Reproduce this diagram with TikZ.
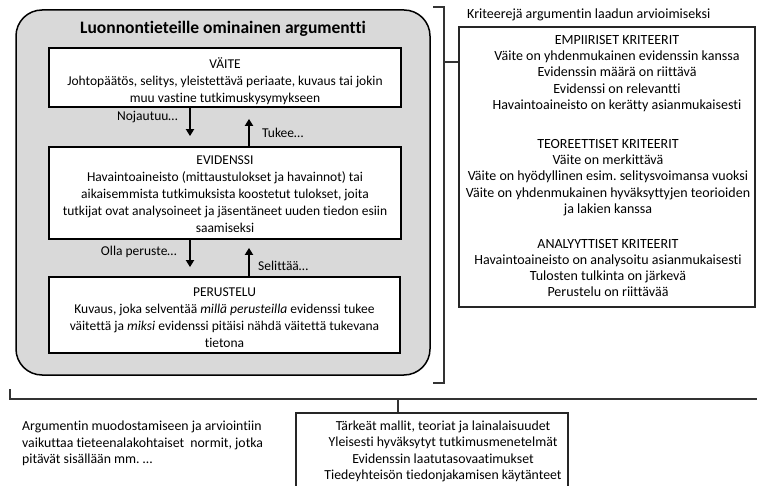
\documentclass[tikz,border=0pt]{standalone}
\usepackage{fontspec}
\setmainfont{Carlito}[Ligatures=NoCommon]
\usetikzlibrary{arrows.meta}
\frenchspacing
\begin{document}
\begin{tikzpicture}[x=1pt,y=-1pt,
  box/.style={draw=black, line width=1.8pt, fill=white, inner sep=0pt},
  boxtext/.style={align=center, inner sep=0pt, font=\fontsize{13.5}{17}\selectfont},
  lbl/.style={font=\fontsize{13.5}{16}\selectfont, inner sep=0pt},
  arr/.style={line width=2pt, -{Triangle[width=8pt,length=7pt]}},
  brk/.style={line width=1.3pt, draw=black!80},
  crit/.style={align=center, font=\fontsize{14}{16.3}\selectfont, inner sep=0pt}]
\useasboundingbox (0,0) rectangle (757,486);
\clip (0,0) rectangle (757,486);

% outer rounded box
\node[draw=black, line width=1.5pt, fill=black!15, rounded corners=26pt,
  minimum width=414pt, minimum height=365pt, inner sep=0pt] (outer) at (223,192.5) {};
\node[font=\fontsize{17.5}{19}\selectfont\bfseries, inner sep=0pt] (title) at (223,29)
  {Luonnontieteille ominainen argumentti};

% three boxes
\node[box, minimum width=352pt, minimum height=59pt] (vaite) at (225,77.5) {};
\node[boxtext] (vaitetext) at (225,81)
  {VÄITE\\Johtopäätös, selitys, yleistettävä periaate, kuvaus tai jokin\\muu vastine tutkimuskysymykseen};
\node[box, minimum width=352pt, minimum height=92pt] (evid) at (225,193) {};
\node[boxtext] (evidtext) at (225,194)
  {EVIDENSSI\\Havaintoaineisto (mittaustulokset ja havainnot) tai\\aikaisemmista tutkimuksista koostetut tulokset, joita\\tutkijat ovat analysoineet ja jäsentäneet uuden tiedon esiin\\saamiseksi};
\node[box, minimum width=351pt, minimum height=76pt] (perus) at (224.5,315) {};
\node[boxtext] (perustext) at (224.5,318)
  {PERUSTELU\\Kuvaus, joka selventää \textit{millä perusteilla} evidenssi tukee\\väitettä ja \textit{miksi} evidenssi pitäisi nähdä väitettä tukevana\\tietona};

% arrows
\draw[arr] ([xshift=-35pt]vaite.south) -- ([xshift=-35pt,yshift=10pt]evid.north);
\draw[arr] ([xshift=24pt]evid.north) -- ([xshift=24pt,yshift=-11pt]vaite.south);
\draw[arr] ([xshift=-35pt]evid.south) -- ([xshift=-34.5pt,yshift=9pt]perus.north);
\draw[arr] ([xshift=24.5pt]perus.north) -- ([xshift=24pt,yshift=-8pt]evid.south);
\node[lbl, anchor=east] (l1) at (178,117) {Nojautuu…};
\node[lbl, anchor=west] (l2) at (262,133) {Tukee…};
\node[lbl, anchor=east] (l3) at (177,252) {Olla peruste…};
\node[lbl, anchor=west] (l4) at (258,266) {Selittää…};

% criteria
\node[lbl, font=\fontsize{14}{16}\selectfont, anchor=west] (crittitle) at (467,14.5) {Kriteerejä argumentin laadun arvioimiseksi};
\node[draw=black!85, line width=1.3pt, minimum width=296pt, minimum height=280pt, inner sep=0pt] (crit) at (607,167) {};
\node[crit] (emp) at (617,73.5) {EMPIIRISET KRITEERIT\\Väite on yhdenmukainen evidenssin kanssa\\Evidenssin määrä on riittävä\\Evidenssi on relevantti\\Havaintoaineisto on kerätty asianmukaisesti};
\node[crit] (teo) at (608,177.5) {TEOREETTISET KRITEERIT\\Väite on merkittävä\\Väite on hyödyllinen esim. selitysvoimansa vuoksi\\Väite on yhdenmukainen hyväksyttyjen teorioiden\\ja lakien kanssa};
\node[crit] (ana) at (608,268) {ANALYYTTISET KRITEERIT\\Havaintoaineisto on analysoitu asianmukaisesti\\Tulosten tulkinta on järkevä\\Perustelu on riittävää};

% right bracket
\draw[brk] (433,7) -- (444,7) -- (444,383) -- (433,383);
\coordinate (rb) at (444,62);
\draw[brk] (rb) -- (rb -| crit.west);

% bottom bracket
\draw[brk] (10,389) -- (10,399) -- (757,399);
\node[draw=black!85, line width=1.3pt, minimum width=272pt, minimum height=80pt, inner sep=0pt] (norms) at (432,453) {};
\coordinate (bb) at (398,399);
\draw[brk] (bb) -- (bb |- norms.north);
\node[crit, font=\fontsize{13.8}{16.3}\selectfont] (normtext) at (443,451.5) {Tärkeät mallit, teoriat ja lainalaisuudet\\Yleisesti hyväksytyt tutkimusmenetelmät\\Evidenssin laatutasovaatimukset\\Tiedeyhteisön tiedonjakamisen käytänteet};
\node[crit, font=\fontsize{13.8}{16.5}\selectfont, align=left, anchor=west] (lefttext) at (22,443.5) {Argumentin muodostamiseen ja arviointiin\\vaikuttaa tieteenalakohtaiset\ \ normit, jotka\\pitävät sisällään mm. …};
\end{tikzpicture}
\end{document}
